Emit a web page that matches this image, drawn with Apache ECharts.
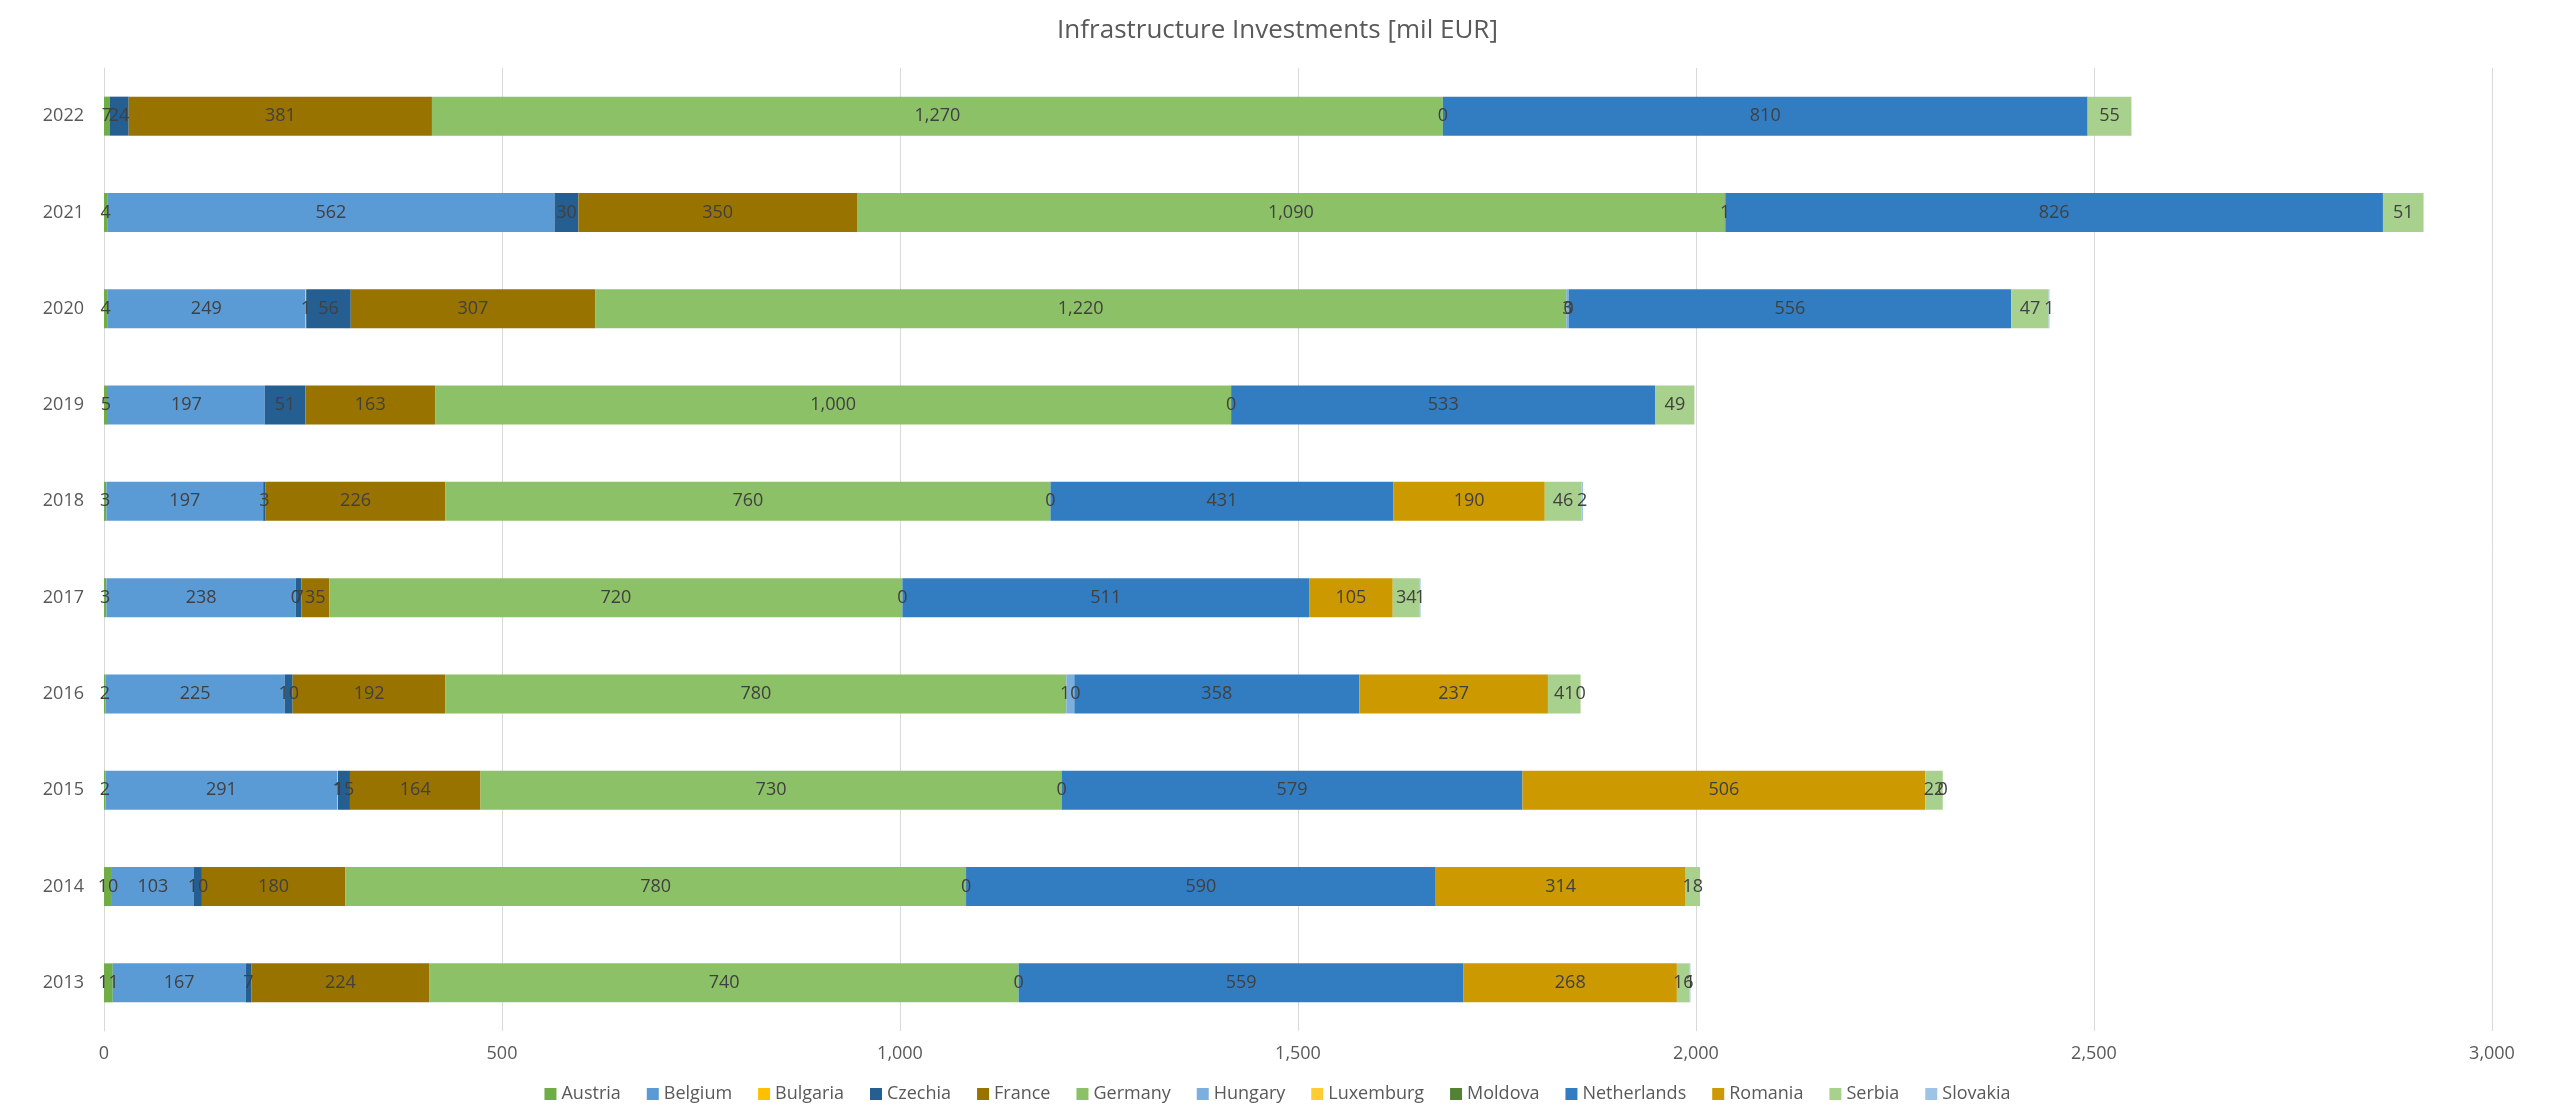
<!DOCTYPE html>
<html>
<head>
<meta charset="utf-8">
<title>Infrastructure Investments</title>
<script src="https://cdn.jsdelivr.net/npm/echarts@6/dist/echarts.min.js"></script>
<style>
  html, body { margin: 0; padding: 0; background: #ffffff; }
  #chart { width: 2555px; height: 1108px; }
</style>
</head>
<body>
<div id="chart"></div>
<script>
// Years on the category axis (bottom to top)
const years = ['2013', '2014', '2015', '2016', '2017', '2018', '2019', '2020', '2021', '2022'];

// Investment per country and year, mil EUR (null = no entry)
const austria     = [11, 10, 2, 2, 3, 3, 5, 4, 4, 7];
const belgium     = [167, 103, 291, 225, 238, 197, 197, 249, 562, null];
const bulgaria    = [null, null, 1, null, 0, null, null, 1, null, null];
const czechia     = [7, 10, 15, 10, 7, 3, 51, 56, 30, 24];
const france      = [224, 180, 164, 192, 35, 226, 163, 307, 350, 381];
const germany     = [740, 780, 730, 780, 720, 760, 1000, 1220, 1090, 1270];
const hungary     = [null, null, null, 10, null, null, null, 3, null, null];
const luxemburg   = [null, null, null, null, null, null, null, null, null, null];
const moldova     = [0, 0, 0, null, 0, 0, 0, 0, 1, 0];
const netherlands = [559, 590, 579, 358, 511, 431, 533, 556, 826, 810];
const romania     = [268, 314, 506, 237, 105, 190, null, null, null, null];
const serbia      = [16, 18, 22, 41, 34, 46, 49, 47, 51, 55];
const slovakia    = [1, null, 0, 0, 1, 2, null, 1, null, null];

// Value axis ticks
const xTicks = [0, 500, 1000, 1500, 2000, 2500, 3000];

const countries = [
  ['Austria', austria, '#70AD47'],
  ['Belgium', belgium, '#5B9BD5'],
  ['Bulgaria', bulgaria, '#FFC000'],
  ['Czechia', czechia, '#255E91'],
  ['France', france, '#997300'],
  ['Germany', germany, '#8CC168'],
  ['Hungary', hungary, '#7CAFDD'],
  ['Luxemburg', luxemburg, '#FFCD33'],
  ['Moldova', moldova, '#548235'],
  ['Netherlands', netherlands, '#327DC2'],
  ['Romania', romania, '#CC9A00'],
  ['Serbia', serbia, '#A9D18E'],
  ['Slovakia', slovakia, '#9DC3E6']
];

const FONT = '"Open Sans", "Noto Sans", sans-serif';
const fmt = v => Number(v).toLocaleString('en-US');

const series = countries.map(([name, values, color]) => ({
  name: name,
  type: 'bar',
  stack: 'total',
  barWidth: 39,
  data: values.map(v => (v === null ? '-' : v)),
  itemStyle: { color: color },
  label: {
    show: true,
    position: 'inside',
    color: '#404040',
    fontFamily: FONT,
    fontSize: 18,
    formatter: p => fmt(p.value)
  },
  emphasis: { disabled: true }
}));

const chart = echarts.init(document.getElementById('chart'), null, { renderer: 'canvas' });
chart.setOption({
  animation: false,
  backgroundColor: '#ffffff',
  title: {
    text: 'Infrastructure Investments [mil EUR]',
    left: 'center',
    top: 13,
    textStyle: { fontFamily: FONT, fontSize: 26, fontWeight: 'normal', color: '#595959' }
  },
  legend: {
    bottom: 0,
    left: 'center',
    itemWidth: 12,
    itemHeight: 12,
    itemGap: 26,
    icon: 'rect',
    textStyle: { fontFamily: FONT, fontSize: 18, color: '#595959' },
    data: countries.map(c => c[0])
  },
  grid: { left: 104, right: 63, top: 68, bottom: 77, containLabel: false },
  xAxis: {
    type: 'value',
    min: xTicks[0],
    max: xTicks[xTicks.length - 1],
    interval: 500,
    axisLine: { show: false },
    axisTick: { show: false },
    splitLine: { show: true, lineStyle: { color: '#D9D9D9', width: 1 } },
    axisLabel: {
      fontFamily: FONT, fontSize: 18, color: '#595959', margin: 14,
      formatter: v => fmt(v)
    }
  },
  yAxis: {
    type: 'category',
    data: years,
    axisLine: { show: true, lineStyle: { color: '#D9D9D9' } },
    axisTick: { show: false },
    axisLabel: { fontFamily: FONT, fontSize: 18, color: '#595959', margin: 20 }
  },
  series: series
});
</script>
</body>
</html>
